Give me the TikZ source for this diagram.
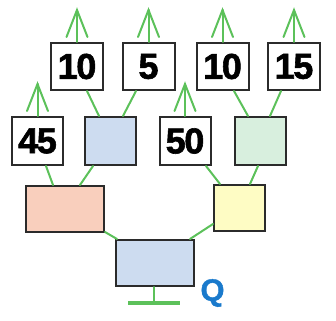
\documentclass[tikz,border=0pt]{standalone}
\usepackage{fontspec}
\setmainfont{Liberation Sans}
\newfontfamily\heavyfont[FakeBold=1.6, LetterSpace=-4]{Liberation Sans Bold}
\newfontfamily\qfont[FakeBold=1.2]{Liberation Sans Bold}
\definecolor{branch}{HTML}{5CC15A}
\definecolor{frame}{HTML}{2B2B2B}
\definecolor{qblue}{HTML}{1A7ACC}
\definecolor{fillblue}{HTML}{CDDCF0}
\definecolor{fillgreen}{HTML}{D8EFDE}
\definecolor{fillsalmon}{HTML}{F9CFBD}
\definecolor{fillyellow}{HTML}{FEFCC4}
\tikzset{
    cell/.style={draw=frame, line width=2pt, fill=white, inner sep=0pt,
        minimum width=52pt, minimum height=47pt,
        font=\fontsize{36}{36}\selectfont\heavyfont},
    link/.style={draw=branch, line width=2pt, line cap=round}
}
\begin{document}
\begin{tikzpicture}[x=1pt, y=-1pt]
    \useasboundingbox (0,0) rectangle (336,320);

    % top row
    \node[cell] (t1) at (77,66.5) {10};
    \node[cell] (t2) at (148.5,66.5) {5};
    \node[cell] (t3) at (222.5,66.5) {10};
    \node[cell] (t4) at (294,66.5) {15};

    % second row
    \node[cell, minimum width=51pt, minimum height=48pt] (m1) at (37.5,141) {45};
    \node[cell, minimum width=51pt, minimum height=48pt, fill=fillblue] (m2) at (110.5,141) {};
    \node[cell, minimum width=51pt, minimum height=48pt] (m3) at (185,141) {50};
    \node[cell, minimum width=51pt, minimum height=48pt, fill=fillgreen] (m4) at (260,141) {};

    % third row and base
    \node[cell, minimum width=78pt, minimum height=46pt, fill=fillsalmon] (l1) at (65,209) {};
    \node[cell, minimum width=51pt, minimum height=46pt, fill=fillyellow] (l2) at (239.5,208) {};
    \node[cell, minimum width=78pt, minimum height=46pt, fill=fillblue] (b) at (155,263) {};

    \coordinate (a1) at (77,10);
    \coordinate (a2) at (148.5,10);
    \coordinate (a3) at (222.5,10);
    \coordinate (a4) at (294,10);
    \coordinate (a5) at (37.5,84);
    \coordinate (a6) at (185,84);
    \foreach \n/\tip in {t1/a1, t2/a2, t3/a3, t4/a4, m1/a5, m3/a6} {
        \draw[link] (\n.north) -- (\tip);
        \draw[link] ([shift={(-10.5,27)}]\tip) -- (\tip) -- ([shift={(10.5,27)}]\tip);
    }

    \draw[link] ([xshift=10pt]t1.south) -- ([xshift=-11.5pt]m2.north);
    \draw[link] ([xshift=-12.5pt]t2.south) -- ([xshift=12.5pt]m2.north);
    \draw[link] ([xshift=11.5pt]t3.south) -- ([xshift=-12pt]m4.north);
    \draw[link] ([xshift=-13pt]t4.south) -- ([xshift=10pt]m4.north);
    \draw[link] ([xshift=8.5pt]m1.south) -- ([xshift=-12pt]l1.north);
    \draw[link] ([xshift=-17.5pt]m2.south) -- ([xshift=15pt]l1.north);
    \draw[link] ([xshift=21pt]m3.south) -- ([xshift=-19.5pt]l2.north);
    \draw[link] ([xshift=-2pt]m4.south) -- ([xshift=10.5pt]l2.north);
    \draw[link] ([yshift=1pt]l1.south east) -- ([xshift=2pt]b.north west);
    \draw[link] ([yshift=-16pt]l2.west) -- ([xshift=35pt]b.north);

    % ground
    \coordinate (g) at (154,303);
    \coordinate (gl) at (128,303);
    \coordinate (gr) at (180,303);
    \draw[link] ([xshift=-1pt]b.south) -- (g);
    \draw[draw=branch, line width=3.5pt] (gl) -- (gr);
    \node[text=qblue, font=\fontsize{31}{31}\selectfont\qfont] (q) at (212.5,293) {Q};
\end{tikzpicture}
\end{document}
